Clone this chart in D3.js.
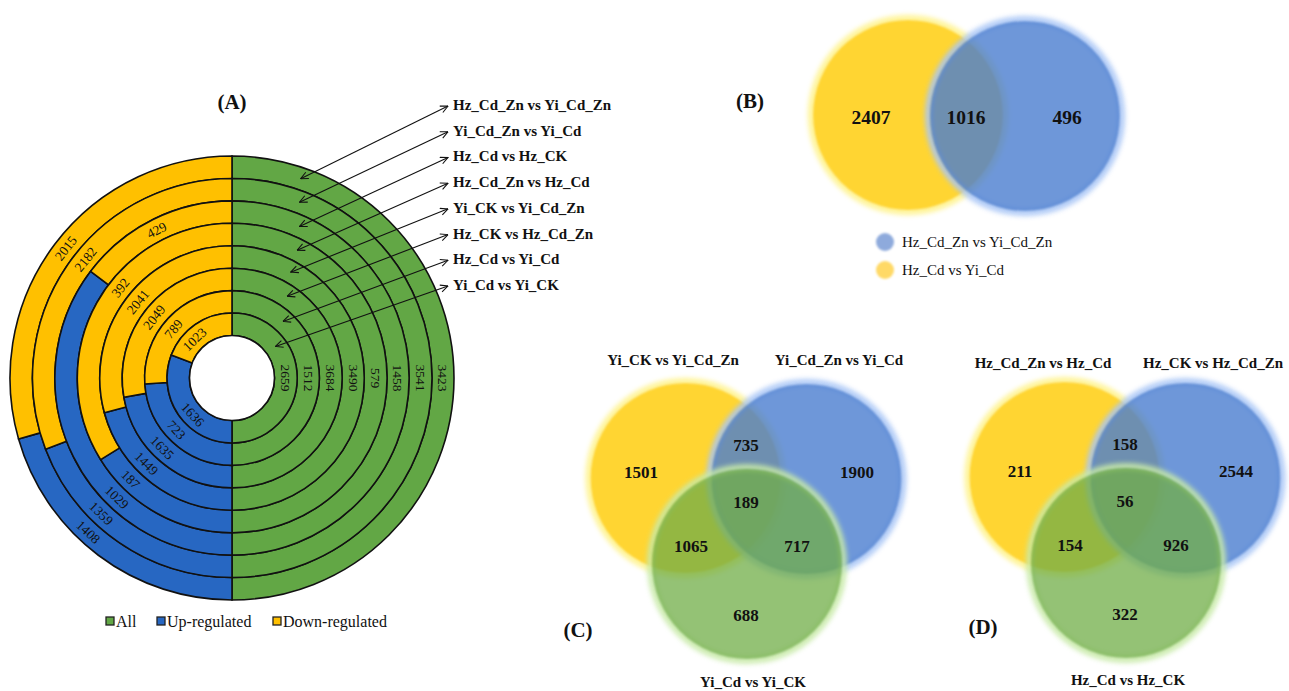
<!DOCTYPE html>
<html>
<head>
<meta charset="utf-8">
<script src="https://cdn.jsdelivr.net/npm/d3@7"></script>
<style>
  body { margin: 0; background: #fff; }
  svg { display: block; }
  text { font-family: "Liberation Serif", "Times New Roman", serif; fill: #111; }
</style>
</head>
<body>
<svg id="chart" width="1289" height="691"></svg>
<script>
// ---- Panel A: DEG counts per comparison, listed from the outermost ring inwards ----
const comparisons = [
  "Hz_Cd_Zn vs Yi_Cd_Zn", "Yi_Cd_Zn vs Yi_Cd", "Hz_Cd vs Hz_CK", "Hz_Cd_Zn vs Hz_Cd",
  "Yi_CK vs Yi_Cd_Zn", "Hz_CK vs Hz_Cd_Zn", "Hz_Cd vs Yi_Cd", "Yi_Cd vs Yi_CK"
];
const allDEGs  = [3423, 3541, 1458, 579, 3490, 3684, 1512, 2659];
const upDEGs   = [1408, 1359, 1029, 187, 1449, 1635, 723, 1636];
const downDEGs = [2015, 2182, 429, 392, 2041, 2049, 789, 1023];
const legendLabels = ["All", "Up-regulated", "Down-regulated"];

// label placement on the left half: degrees away from 12 o'clock (down) / 6 o'clock (up)
const downLabelAngle = [52, 51, 27, 51, 51, 52, 50, 44];
const upLabelAngle   = [43, 44, 44, 45, 45, 45, 47, 47];
// angle (degrees clockwise from 12 o'clock) where each pointer meets its ring
const pointerAngles = [19, 21, 24, 27, 29, 34, 42, 54];

// ---- Panels B-D: Venn region counts ----
const vennBSets = ["Hz_Cd vs Yi_Cd", "Hz_Cd_Zn vs Yi_Cd_Zn"];
const vennBCounts = [2407, 1016, 496];                      // first only, shared, second only
const vennCSets = ["Yi_CK vs Yi_Cd_Zn", "Yi_Cd_Zn vs Yi_Cd", "Yi_Cd vs Yi_CK"];
const vennCCounts = [1501, 735, 1900, 189, 1065, 717, 688]; // A, AB, B, ABC, AC, BC, C
const vennDSets = ["Hz_Cd_Zn vs Hz_Cd", "Hz_CK vs Hz_Cd_Zn", "Hz_Cd vs Hz_CK"];
const vennDCounts = [211, 158, 2544, 56, 154, 926, 322];

const svg = d3.select("#chart");
const defs = svg.append("defs");

defs.append("marker")
  .attr("id", "head")
  .attr("viewBox", "0 0 10 10")
  .attr("refX", 9.5).attr("refY", 5)
  .attr("markerWidth", 8).attr("markerHeight", 8)
  .attr("orient", "auto-start-reverse")
  .append("path")
  .attr("d", "M1,1 L9.5,5 L1,9")
  .attr("fill", "none").attr("stroke", "#111").attr("stroke-width", 1.2);

const halo = defs.append("filter").attr("id", "halo")
  .attr("x", "-20%").attr("y", "-20%").attr("width", "140%").attr("height", "140%");
halo.append("feGaussianBlur").attr("stdDeviation", 2.5);
const soft = defs.append("filter").attr("id", "soft")
  .attr("x", "-10%").attr("y", "-10%").attr("width", "120%").attr("height", "120%");
soft.append("feGaussianBlur").attr("stdDeviation", 0.8);

// ================= Panel A: concentric half/half donut =================
const cx = 232, cy = 378, rHole = 42.5, rOuter = 222;
const ringColor = { all: "#62a745", up: "#2767c2", down: "#ffc000" };
const ring = d3.scaleBand().domain(d3.range(comparisons.length)).range([rOuter, rHole]);
const pie = d3.pie().sort(null).value(d => d.value).startAngle(0).endAngle(2 * Math.PI);
const deg = Math.PI / 180;

const gA = svg.append("g").attr("transform", `translate(${cx},${cy})`);

comparisons.forEach((name, i) => {
  const r0 = ring(i), r1 = r0 + ring.bandwidth(), rMid = (r0 + r1) / 2;
  const arc = d3.arc().innerRadius(r0).outerRadius(r1);
  const slices = pie([
    { key: "all", value: allDEGs[i] },
    { key: "up", value: upDEGs[i] },
    { key: "down", value: downDEGs[i] }
  ]);
  const g = gA.append("g");
  g.selectAll("path").data(slices).join("path")
    .attr("d", arc)
    .attr("fill", d => ringColor[d.data.key])
    .attr("stroke", "#111").attr("stroke-width", 1.6);

  // label angle, clockwise from 12 o'clock
  const labelAngle = d => {
    if (d.data.key === "all") return (d.startAngle + d.endAngle) / 2 / deg;
    if (d.data.key === "up") return 180 + upLabelAngle[i];
    return 360 - downLabelAngle[i];
  };
  g.selectAll("text").data(slices).join("text")
    .attr("transform", d => {
      let a = labelAngle(d);
      const x = rMid * Math.sin(a * deg), y = -rMid * Math.cos(a * deg);
      if (a > 90.5 && a < 269.5) a -= 180;
      return `translate(${x},${y}) rotate(${a})`;
    })
    .attr("text-anchor", "middle")
    .attr("dominant-baseline", "central")
    .attr("font-size", 13.5)
    .text(d => d.data.value);
});

gA.append("circle").attr("r", rHole).attr("fill", "#fff").attr("stroke", "#111").attr("stroke-width", 1.6);

// comparison names with double-headed pointers to their rings
const labelY = d3.scalePoint().domain(comparisons).range([105, 285]);
const gLab = svg.append("g");
comparisons.forEach((name, i) => {
  const rMid = ring(i) + ring.bandwidth() / 2;
  const a = pointerAngles[i] * deg;
  const y = labelY(name);
  gLab.append("line")
    .attr("x1", 448).attr("y1", y + 1)
    .attr("x2", cx + rMid * Math.sin(a)).attr("y2", cy - rMid * Math.cos(a))
    .attr("stroke", "#111").attr("stroke-width", 1.1)
    .attr("marker-start", "url(#head)").attr("marker-end", "url(#head)");
  gLab.append("text")
    .attr("x", 453).attr("y", y)
    .attr("dominant-baseline", "central")
    .attr("font-size", 15).attr("font-weight", "bold")
    .text(name);
});

svg.append("text").attr("x", cx).attr("y", 102)
  .attr("text-anchor", "middle").attr("dominant-baseline", "central")
  .attr("font-size", 21).attr("font-weight", "bold").text("(A)");

// legend
const legendX = [106, 157, 273];
const legendCol = [ringColor.all, ringColor.up, ringColor.down];
const gLeg = svg.append("g");
legendLabels.forEach((lab, i) => {
  gLeg.append("rect").attr("x", legendX[i]).attr("y", 617).attr("width", 8).attr("height", 8)
    .attr("fill", legendCol[i]).attr("stroke", "#222").attr("stroke-width", 1.3);
  gLeg.append("text").attr("x", legendX[i] + 10).attr("y", 621.5)
    .attr("dominant-baseline", "central").attr("font-size", 16).text(lab);
});

// ================= Venn diagrams =================
const vennStyle = {
  yellow: { fill: "#ffd533", op: 1.0, halo: "#fff38a" },
  blue:   { fill: "#4a7dd0", op: 0.8, halo: "#a9c6f6" },
  green:  { fill: "#70ad47", op: 0.75, halo: "#c8eaa8" }
};
const vennR = 95;

function drawCircles(g, circles) {
  circles.forEach(c => {
    const s = vennStyle[c.color];
    // soft glow ring around the rim
    g.append("circle").attr("cx", c.x).attr("cy", c.y).attr("r", vennR + 1.5)
      .attr("fill", "none").attr("stroke", s.halo).attr("stroke-width", 7)
      .attr("opacity", 0.9).attr("filter", "url(#halo)");
    g.append("circle").attr("cx", c.x).attr("cy", c.y).attr("r", vennR)
      .attr("fill", s.fill).attr("fill-opacity", s.op).attr("filter", "url(#soft)");
  });
}
function countText(g, x, y, v, size) {
  g.append("text").attr("x", x).attr("y", y)
    .attr("text-anchor", "middle").attr("dominant-baseline", "central")
    .attr("font-size", size).attr("font-weight", "bold").text(v);
}

// Panel B: two sets
const gB = svg.append("g");
drawCircles(gB, [{ x: 908, y: 115, color: "yellow" }, { x: 1025, y: 116, color: "blue" }]);
const bPos = [[871, 117], [966, 117], [1067, 117]];
vennBCounts.forEach((v, i) => countText(gB, bPos[i][0], bPos[i][1], v, 19.5));
svg.append("text").attr("x", 750).attr("y", 101)
  .attr("text-anchor", "middle").attr("dominant-baseline", "central")
  .attr("font-size", 21).attr("font-weight", "bold").text("(B)");
const bLegend = [
  { y: 242, color: "#8eaadc", label: vennBSets[1] },
  { y: 270, color: "#ffd966", label: vennBSets[0] }
];
bLegend.forEach(d => {
  gB.append("circle").attr("cx", 885).attr("cy", d.y).attr("r", 9)
    .attr("fill", d.color).attr("filter", "url(#soft)");
  gB.append("text").attr("x", 902).attr("y", d.y)
    .attr("dominant-baseline", "central").attr("font-size", 15).text(d.label);
});

// Panels C and D: three sets
const regionOffsets = [[-105, -6], [0, -33], [111, -6], [0, 24], [-55, 68], [51, 68], [0, 137]];
function drawVenn3(ox, oy, sets, counts, nameLabels, tag, tagPos) {
  const g = svg.append("g");
  drawCircles(g, [
    { x: ox - 60.5, y: oy, color: "yellow" },
    { x: ox + 60.5, y: oy + 1, color: "blue" },
    { x: ox + 1, y: oy + 86, color: "green" }
  ]);
  counts.forEach((v, i) => countText(g, ox + regionOffsets[i][0], oy + regionOffsets[i][1], v, 17));
  sets.forEach((s, i) => {
    g.append("text").attr("x", nameLabels[i][0]).attr("y", nameLabels[i][1])
      .attr("text-anchor", "middle").attr("dominant-baseline", "central")
      .attr("font-size", 15).attr("font-weight", "bold").text(s);
  });
  g.append("text").attr("x", tagPos[0]).attr("y", tagPos[1])
    .attr("text-anchor", "middle").attr("dominant-baseline", "central")
    .attr("font-size", 21).attr("font-weight", "bold").text(tag);
}

drawVenn3(746, 478, vennCSets, vennCCounts, [[673, 360], [839, 360], [753, 682]], "(C)", [578, 630]);
drawVenn3(1125, 477, vennDSets, vennDCounts, [[1043, 363], [1213, 363], [1128, 680]], "(D)", [983, 627]);
</script>
</body>
</html>
